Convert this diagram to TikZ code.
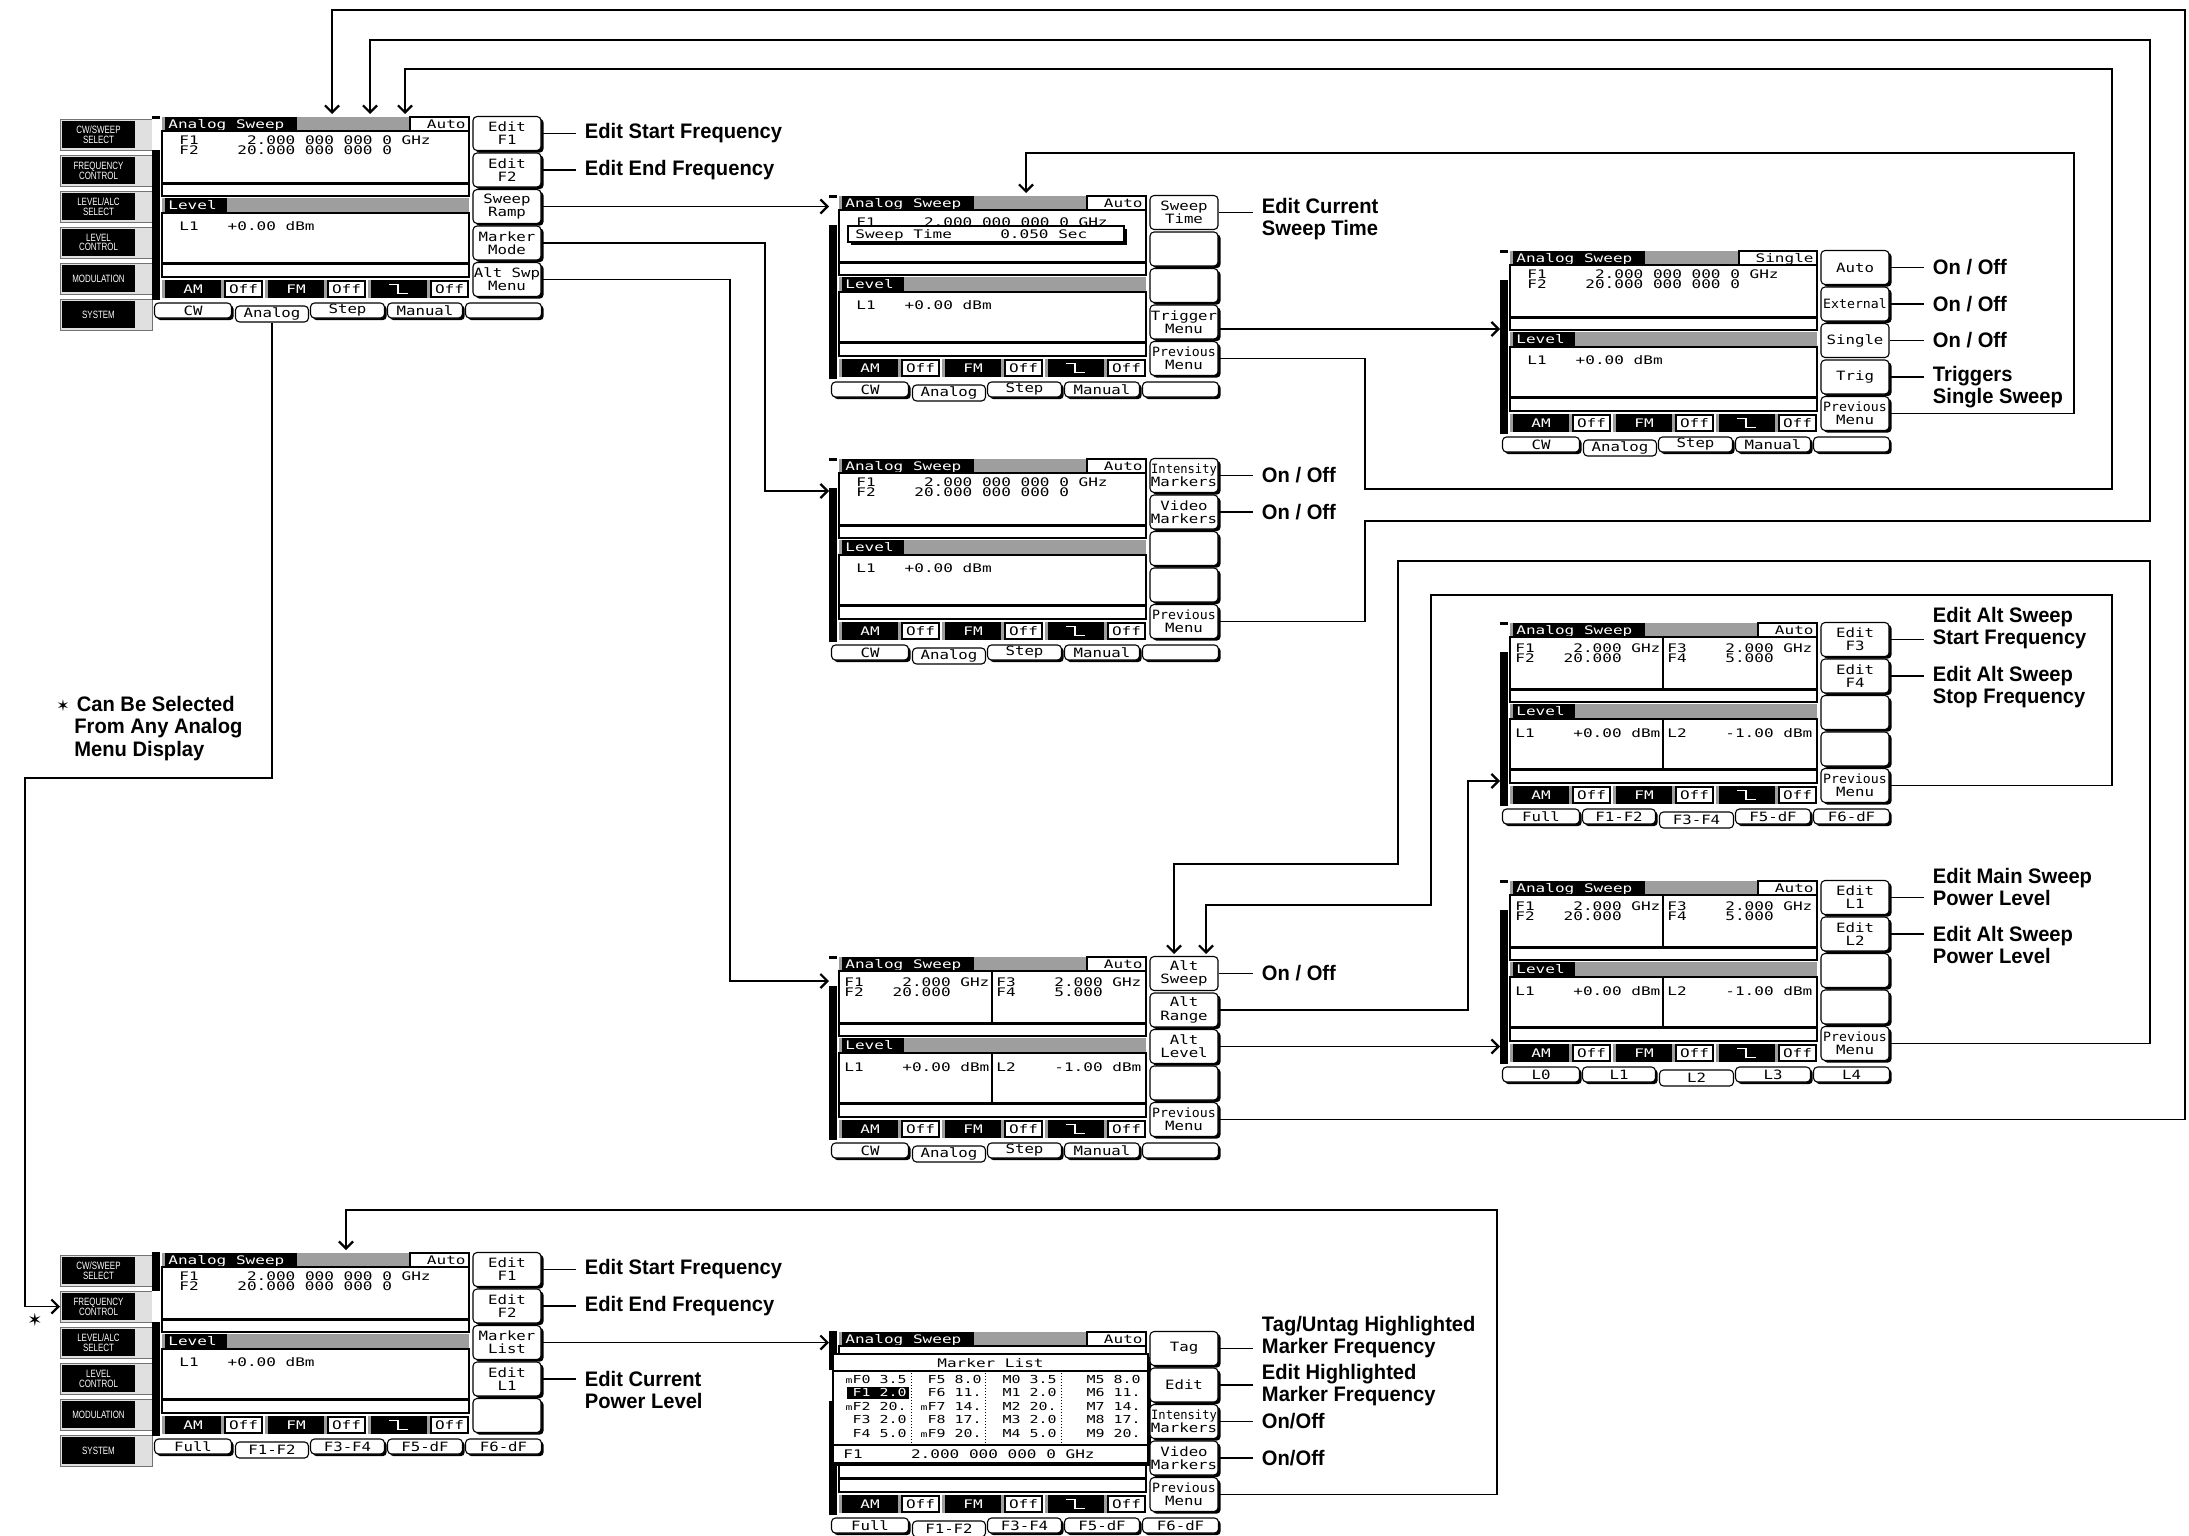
\documentclass[tikz,border=0pt]{standalone}
\usepackage{fontspec}
\usepackage{graphicx}
\usetikzlibrary{arrows.meta,calc,shadows}
\pgfdeclarelayer{background}
\pgfsetlayers{background,main}
\newfontfamily\dvm[FakeStretch=1.36]{DejaVu Sans Mono}
\newfontfamily\dvmk[FakeStretch=1.23]{DejaVu Sans Mono}
\newfontfamily\labfam[FakeStretch=0.96]{Liberation Sans}
\newfontfamily\btnfam[FakeStretch=0.75]{Liberation Sans}
\newfontfamily\symfam{DejaVu Sans}
\newcommand\scrf{\dvm\fontsize{5.9}{6}\selectfont}
\newcommand\mlf{\dvm\fontsize{5.5}{5.6}\selectfont}
\newcommand\keyf{\dvmk\fontsize{6.4}{6.6}\selectfont}
\newcommand\labf{\labfam\bfseries\fontsize{10.5}{11}\selectfont}
\newcommand\btnf{\btnfam\fontsize{5.3}{4.9}\selectfont}
\newcommand\sq[1]{\scalebox{0.84}[1]{#1}}
\newcommand\sqq[1]{\scalebox{0.77}[1]{#1}}
\newcommand\mm{{\fontsize{4.2}{4.2}\selectfont m}}
\tikzset{
  stxt/.style={font=\scrf, inner sep=0pt, anchor=west, text height=4.3pt, text depth=0pt},
  mtxt/.style={font=\mlf, inner sep=0pt, anchor=east, text height=4pt, text depth=0pt},
  btxt/.style={font=\btnf, text=white, align=center, inner sep=0pt},
  lab/.style={font=\labf, align=left, inner sep=0pt, anchor=west},
  conn/.style={line width=0.6pt},
  arr/.style={conn, -{Straight Barb[length=3.5pt,width=7pt,line width=1.1pt]}},
  dith/.style={fill=black!38},
  thinb/.style={line width=0.55pt},
  skeyp/.style={draw, line width=0.55pt, fill=white, rounded corners=2pt, minimum width=34pt, minimum height=17pt, inner sep=0pt, font=\keyf, align=center},
  skey/.style={skeyp, drop shadow={shadow xshift=1.3pt,shadow yshift=-1.1pt,opacity=1,fill=black}},
  tabsel/.style={draw, line width=0.55pt, fill=white, rounded corners=2pt, minimum height=8pt, inner sep=0pt, font=\keyf},
  tabk/.style={draw, line width=0.55pt, fill=white, rounded corners=2pt, minimum height=7.5pt, inner sep=0pt, font=\keyf, drop shadow={shadow xshift=1.1pt,shadow yshift=-1.1pt,opacity=1,fill=black}},
}
% ---------- screen pieces ----------
\newcommand\lbtn[2]{%
  \draw[black!55, fill=black!12, line width=0.4pt] (-92,{3+36*#1}) rectangle (0,{34+36*#1});
  \fill[black] (-90,{5+36*#1}) rectangle (-17,{32+36*#1});
  \node[btxt] (\P-b#1) at (-53.5,{18.5+36*#1}) {#2};}
\newcommand\leftcol[1]{%
  \lbtn{0}{CW/SWEEP\\SELECT}
  \lbtn{1}{FREQUENCY\\CONTROL}
  \lbtn{2}{LEVEL/ALC\\SELECT}
  \lbtn{3}{LEVEL\\CONTROL}
  \lbtn{4}{MODULATION}
  \lbtn{5}{SYSTEM}
  \fill[black] (0,0) rectangle (8,184);
  \fill[white] (0,{3+36*#1}) rectangle (8,{34+36*#1});}
\newcommand\stdbar{\fill[black] (0,0) rectangle (8,3); \fill[black] (0,30) rectangle (8,184);}
\newcommand\statusbar{%
  \foreach \g/\k in {10/a,113/b,216/c}{%
    \fill[dith] (\g,164) rectangle ({\g+101},182);
    \fill[black] ({\g+3},164) rectangle ({\g+59},182);
    \draw[thinb,fill=white] ({\g+63},165) rectangle ({\g+100},181);
    \node[stxt,anchor=center] (\P-o\k) at ({\g+81.5},173) {Off};
  }
  \node[stxt,anchor=center,text=white] (\P-am) at (41,173) {AM};
  \node[stxt,anchor=center,text=white] (\P-fm) at (144,173) {FM};
  \draw[white,line width=0.8pt] (237,168.5) -- (246,168.5) -- (246,177.5) -- (256,177.5);}
\newcommand\scrframe[2]{%
  \fill[black] (10,1) rectangle (145,15);
  \fill[dith] (10,1) rectangle (13,15);
  \fill[dith] (145,1) rectangle (#2,15);
  \draw[thinb,fill=white] (#2,1) rectangle (317,15);
  \node[stxt,text=white] (\P-tt) at (16,8) {Analog~Sweep};
  \node[stxt,anchor=east] (\P-ta) at (314,8) {#1};
  \draw[thinb] (10,15) rectangle (317,67);
  \draw[thinb] (10,68) rectangle (317,80);
  \fill[black] (10,82) rectangle (75,97);
  \fill[dith] (10,82) rectangle (13,97);
  \fill[dith] (75,82) rectangle (317,97);
  \node[stxt,text=white] (\P-lt) at (16,89.5) {Level};
  \draw[thinb] (10,97) rectangle (317,147);
  \draw[thinb] (10,148) rectangle (317,161);
  \statusbar}
\newcommand\stdtext{%
  \node[stxt] (\P-f1) at (27,24) {F1~~~~~2.000~000~000~0~GHz};
  \node[stxt] (\P-f2) at (27,34) {F2~~~~20.000~000~000~0};
  \node[stxt] (\P-l1) at (27,110) {L1~~~+0.00~dBm};}
\newcommand\splittext{%
  \draw[thinb] (163,15) -- (163,67);
  \draw[thinb] (163,97) -- (163,147);
  \node[stxt] (\P-f1) at (15,26) {F1~~~~2.000~GHz};
  \node[stxt] (\P-f2) at (15,36) {F2~~~20.000};
  \node[stxt] (\P-f3) at (167,26) {F3~~~~2.000~GHz};
  \node[stxt] (\P-f4) at (167,36) {F4~~~~5.000};
  \node[stxt] (\P-l1) at (15,111) {L1~~~~+0.00~dBm};
  \node[stxt] (\P-l2) at (167,111) {L2~~~~-1.00~dBm};}
\newcommand\sk[2]{\node[skey] (\P-k#1) at (355,{17.5+36.5*(#1-1)}) {#2};}
\newcommand\skp[2]{\node[skeyp] (\P-k#1) at (355,{17.5+36.5*(#1-1)}) {#2};}
\newcommand\tabone[5]{%
  \ifnum#1=#5\relax
    \node[tabsel, minimum width={(#3-#2-3)*0.5pt}] (\P-t#1) at ({(#2+#3)/2},198) {#4};
  \else
    \node[tabk, minimum width={(#3-#2-3)*0.5pt}] (\P-t#1) at ({(#2+#3)/2-1},194.5) {#4};
  \fi}
\newcommand\tabrow[6]{%
  \tabone{1}{2}{82}{#2}{#1}
  \tabone{2}{82}{158}{#3}{#1}
  \tabone{3}{158}{235}{#4}{#1}
  \tabone{4}{235}{313}{#5}{#1}
  \tabone{5}{313}{392}{#6}{#1}}
\newcommand\lbl[4]{%
  \node[lab] (#2) at ($(#1.east)+(43,#3)$) {#4};
  \draw[conn, shorten >=4.5pt] (#1.east) -- (#1.east -| #2.west);}
\begin{document}
\begin{tikzpicture}[x=0.5pt,y=-0.5pt]
\useasboundingbox (0,0) rectangle (2189,1536);
% ===== S1 =====
\def\P{s1}
\begin{scope}[shift={(152,116)}]
  \leftcol{0}
  \scrframe{Auto}{258}
  \stdtext
  \sk{1}{Edit\\F1} \sk{2}{Edit\\F2} \sk{3}{Sweep\\Ramp} \sk{4}{Marker\\Mode} \sk{5}{Alt~Swp\\Menu}
  \tabrow{2}{CW}{Analog}{Step}{Manual}{}
  \coordinate (s1-in1) at (180,-2);
  \coordinate (s1-in2) at (218,-2);
  \coordinate (s1-in3) at (253,-2);
\end{scope}
% ===== S2 =====
\def\P{s2}
\begin{scope}[shift={(829,195)}]
  \stdbar
  \scrframe{Auto}{258}
  \node[stxt] (s2-f1) at (27,27) {F1~~~~~2.000~000~000~0~GHz};
  \node[stxt] (s2-l1) at (27,110) {L1~~~+0.00~dBm};
  \fill[black] (22,34) rectangle (298,50);
  \draw[thinb,fill=white] (19,31) rectangle (295,47);
  \node[stxt] (s2-st) at (26,39) {Sweep~Time~~~~~0.050~Sec};
  \skp{1}{Sweep\\Time} \sk{2}{} \sk{3}{} \sk{4}{Trigger\\Menu} \sk{5}{\sq{Previous}\\Menu}
  \tabrow{2}{CW}{Analog}{Step}{Manual}{}
  \coordinate (s2-in) at (0,11.5);
  \coordinate (s2-intop) at (197,-2);
\end{scope}
% ===== S3 =====
\def\P{s3}
\begin{scope}[shift={(829,458)}]
  \stdbar
  \scrframe{Auto}{258}
  \stdtext
  \sk{1}{\sqq{Intensity}\\Markers} \sk{2}{Video\\Markers} \sk{3}{} \sk{4}{} \sk{5}{\sq{Previous}\\Menu}
  \tabrow{2}{CW}{Analog}{Step}{Manual}{}
  \coordinate (s3-in) at (0,33);
\end{scope}
% ===== S4 =====
\def\P{s4}
\begin{scope}[shift={(829,956)}]
  \stdbar
  \scrframe{Auto}{258}
  \splittext
  \skp{1}{Alt\\Sweep} \sk{2}{Alt\\Range} \sk{3}{Alt\\Level} \sk{4}{} \sk{5}{\sq{Previous}\\Menu}
  \tabrow{2}{CW}{Analog}{Step}{Manual}{}
  \coordinate (s4-in) at (0,25);
  \coordinate (s4-in1) at (345,-2);
  \coordinate (s4-in2) at (377,-2);
\end{scope}
% ===== S5 =====
\def\P{s5}
\begin{scope}[shift={(1500,250)}]
  \stdbar
  \scrframe{Single}{239}
  \stdtext
  \sk{1}{Auto} \sk{2}{\sq{External}} \skp{3}{Single} \sk{4}{Trig} \sk{5}{\sq{Previous}\\Menu}
  \tabrow{2}{CW}{Analog}{Step}{Manual}{}
  \coordinate (s5-in) at (0,0);
\end{scope}
% ===== S6 =====
\def\P{s6}
\begin{scope}[shift={(1500,622)}]
  \stdbar
  \scrframe{Auto}{258}
  \splittext
  \sk{1}{Edit\\F3} \sk{2}{Edit\\F4} \sk{3}{} \sk{4}{} \sk{5}{\sq{Previous}\\Menu}
  \tabrow{3}{Full}{F1-F2}{F3-F4}{F5-dF}{F6-dF}
  \coordinate (s6-in) at (0,159);
\end{scope}
% ===== S7 =====
\def\P{s7}
\begin{scope}[shift={(1500,880)}]
  \stdbar
  \scrframe{Auto}{258}
  \splittext
  \sk{1}{Edit\\L1} \sk{2}{Edit\\L2} \sk{3}{} \sk{4}{} \sk{5}{\sq{Previous}\\Menu}
  \tabrow{3}{L0}{L1}{L2}{L3}{L4}
  \coordinate (s7-in) at (0,0);
\end{scope}
% ===== S8 =====
\def\P{s8}
\begin{scope}[shift={(152,1252)}]
  \leftcol{1}
  \scrframe{Auto}{258}
  \stdtext
  \sk{1}{Edit\\F1} \sk{2}{Edit\\F2} \sk{3}{Marker\\List} \sk{4}{Edit\\L1} \sk{5}{}
  \tabrow{2}{Full}{F1-F2}{F3-F4}{F5-dF}{F6-dF}
  \coordinate (s8-fc) at (-92,54.5);
  \coordinate (s8-intop) at (194,-2);
\end{scope}
% ===== S9 =====
\def\P{s9}
\begin{scope}[shift={(829,1331)}]
  \fill[black] (0,0) rectangle (8,184);
  \fill[white] (0,39) rectangle (8,70);
  \scrframe{Auto}{258}
  \fill[black] (7,26) rectangle (322,135);
  \draw[line width=0.7pt,fill=white] (4,23) rectangle (319,132);
  \node[stxt,anchor=center] (s9-mlh) at (161.5,32) {Marker~List};
  \draw[thinb] (4,40) -- (319,40);
  \draw[thinb] (4,114) -- (319,114);
  \foreach \xx in {82,156,232}{\draw[densely dotted,line width=0.5pt] (\xx,42) -- (\xx,112);}
  \fill[black] (18,55.5) rectangle (80,67.5);
  \node[mtxt] (s9-c11) at (78,48) {\mm F0~3.5};
  \node[mtxt,text=white] (s9-c21) at (78,61.5) {F1~2.0};
  \node[mtxt] (s9-c31) at (78,75) {\mm F2~20.};
  \node[mtxt] (s9-c41) at (78,88.5) {F3~2.0};
  \node[mtxt] (s9-c51) at (78,102) {F4~5.0};
  \node[mtxt] (s9-c12) at (153,48) {F5~8.0};
  \node[mtxt] (s9-c22) at (153,61.5) {F6~11.};
  \node[mtxt] (s9-c32) at (153,75) {\mm F7~14.};
  \node[mtxt] (s9-c42) at (153,88.5) {F8~17.};
  \node[mtxt] (s9-c52) at (153,102) {\mm F9~20.};
  \node[mtxt] (s9-c13) at (228,48) {M0~3.5};
  \node[mtxt] (s9-c23) at (228,61.5) {M1~2.0};
  \node[mtxt] (s9-c33) at (228,75) {M2~20.};
  \node[mtxt] (s9-c43) at (228,88.5) {M3~2.0};
  \node[mtxt] (s9-c53) at (228,102) {M4~5.0};
  \node[mtxt] (s9-c14) at (312,48) {M5~8.0};
  \node[mtxt] (s9-c24) at (312,61.5) {M6~11.};
  \node[mtxt] (s9-c34) at (312,75) {M7~14.};
  \node[mtxt] (s9-c44) at (312,88.5) {M8~17.};
  \node[mtxt] (s9-c54) at (312,102) {M9~20.};
  \node[stxt] (s9-mlf) at (14,123) {F1~~~~~2.000~000~000~0~GHz};
  \sk{1}{Tag} \sk{2}{Edit} \sk{3}{\sqq{Intensity}\\Markers} \sk{4}{Video\\Markers} \sk{5}{\sq{Previous}\\Menu}
  \tabrow{2}{Full}{F1-F2}{F3-F4}{F5-dF}{F6-dF}
  \coordinate (s9-in) at (0,0);
\end{scope}
% ===== labels =====
\lbl{s1-k1}{s1-l1}{0}{Edit Start Frequency}
\lbl{s1-k2}{s1-l2}{0}{Edit End Frequency}
\lbl{s2-k1}{s2-l1}{7}{Edit Current\\Sweep Time}
\lbl{s3-k1}{s3-l1}{0}{On / Off}
\lbl{s3-k2}{s3-l2}{0}{On / Off}
\lbl{s4-k1}{s4-l1}{0}{On / Off}
\lbl{s5-k1}{s5-l1}{0}{On / Off}
\lbl{s5-k2}{s5-l2}{0}{On / Off}
\lbl{s5-k3}{s5-l3}{0}{On / Off}
\lbl{s5-k4}{s5-l4}{10}{Triggers\\Single Sweep}
\lbl{s6-k1}{s6-l1}{-11}{Edit Alt Sweep\\Start Frequency}
\lbl{s6-k2}{s6-l2}{11}{Edit Alt Sweep\\Stop Frequency}
\lbl{s7-k1}{s7-l1}{-11}{Edit Main Sweep\\Power Level}
\lbl{s7-k2}{s7-l2}{11}{Edit Alt Sweep\\Power Level}
\lbl{s8-k1}{s8-l1}{0}{Edit Start Frequency}
\lbl{s8-k2}{s8-l2}{0}{Edit End Frequency}
\lbl{s8-k4}{s8-l4}{11}{Edit Current\\Power Level}
\lbl{s9-k1}{s9-l1}{-11}{Tag/Untag Highlighted\\Marker Frequency}
\lbl{s9-k2}{s9-l2}{0}{Edit Highlighted\\Marker Frequency}
\lbl{s9-k3}{s9-l3}{0}{On/Off}
\lbl{s9-k4}{s9-l4}{0}{On/Off}
% ===== note =====
\node[lab] (note1) at (56,704) {{\symfam\fontsize{8}{8}\selectfont ✶}\,\,Can Be Selected};
\node[lab] (note2) at (74,728) {From Any Analog};
\node[lab] (note3) at (74,751) {Menu Display};
\node[inner sep=0pt] (star2) at (35,1320) {\symfam\fontsize{9}{9}\selectfont ✶};
% ===== connectors =====
\begin{pgfonlayer}{background}
\fill[white] (0,0) rectangle (2189,1536);
\draw[arr] (s1-k3.east) -- (s1-k3.east -| s2-in);
\draw[arr] (s1-k4.east) -| (765,491) -- (s3-in);
\draw[arr] (s1-k5.east) -| (730,981) -- (s4-in);
\draw[arr] (s1-t2.south) |- (25,778) |- (s8-fc);
\coordinate (c5) at ($(s2-k4.east)+(0,7)$);
\draw[arr] (c5) -- (c5 -| s5-in);
\draw[arr] (s2-k5.east) -| (1365,489) -| (2112,69) -| (s1-in3);
\draw[arr] (s3-k5.east) -| (1365,521) -| (2150,40) -| (s1-in2);
\draw[arr] (s4-k5.east) -| (2185,10) -| (s1-in1);
\draw[arr] (s5-k5.east) -| (2074,153) -| (s2-intop);
\draw[arr] (s4-k2.east) -| (1468,781) -- (s6-in);
\draw[arr] (s4-k3.east) -- (s4-k3.east -| s7-in);
\draw[arr] (s6-k5.east) -| (2112,595) -| (1431,905) -| (s4-in2);
\draw[arr] (s7-k5.east) -| (2150,561) -| (1398,864) -| (s4-in1);
\draw[arr] (s8-k3.east) -- (s8-k3.east -| s9-in);
\draw[arr] (s9-k5.east) -| (1497,1210) -| (s8-intop);
\end{pgfonlayer}
\end{tikzpicture}
\end{document}
